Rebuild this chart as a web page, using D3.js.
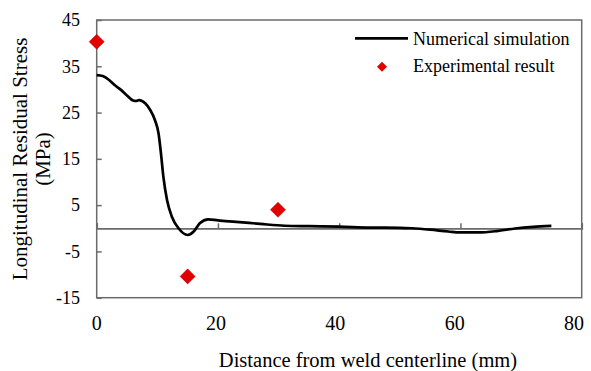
<!DOCTYPE html>
<html>
<head>
<meta charset="utf-8">
<script src="https://cdn.jsdelivr.net/npm/d3@7"></script>
<style>
  body { margin: 0; background: #fff; }
  text { font-family: "Liberation Serif", "Times New Roman", serif; fill: #000; }
</style>
</head>
<body>
<div id="chart"></div>
<script>
// numerical simulation curve
let simX = [0, 1, 2, 3, 4, 5, 6, 6.5, 7, 8, 8.8, 9.6, 10.2, 10.6, 11, 11.6, 12.4, 13.5, 15, 16, 17, 18.4, 20, 23, 27, 31, 35, 40, 45, 50, 52, 55, 58, 60, 63, 66, 69, 72, 75];
let simY = [33.1, 32.9, 32.1, 30.9, 29.9, 28.7, 27.6, 27.5, 27.7, 27.0, 25.6, 23.4, 20.5, 16.2, 11.1, 6.1, 2.5, 0, -1.45, -0.7, 1.1, 1.94, 1.7, 1.4, 0.95, 0.55, 0.45, 0.35, 0.15, 0.1, 0, -0.3, -0.7, -0.9, -0.9, -0.6, -0.05, 0.3, 0.5];
// experimental points
let expX = [0, 15, 29.9];
let expY = [40.3, -10.4, 4.0];
let xTicks = [0, 20, 40, 60, 80];
let yTicks = [-15, -5, 5, 15, 25, 35, 45];
let seriesNames = ["Numerical simulation", "Experimental result"];

let svg = d3.select("#chart").append("svg").attr("width", 591).attr("height", 371);
let x = d3.scaleLinear().domain([0, 80]).range([96.7, 581.7]);
let xLab = d3.scaleLinear().domain([0, 80]).range([96.7, 574]);
let y = d3.scaleLinear().domain([-15, 45]).range([297.7, 20]);
let axisCol = "#6b6b6b";

// plot box
svg.append("rect").attr("x", x(0)).attr("y", y(45))
  .attr("width", x(80) - x(0)).attr("height", y(-15) - y(45))
  .attr("fill", "none").attr("stroke", axisCol).attr("stroke-width", 1.5);

// y axis ticks (inside)
let yAx = svg.append("g").attr("transform", "translate(" + x(0) + ",0)")
  .call(d3.axisRight(y).tickValues(yTicks).tickSize(5).tickFormat(""));
yAx.select(".domain").remove();
yAx.selectAll("line").attr("stroke", axisCol).attr("stroke-width", 1.5);

yTicks.forEach(function (d) {
  svg.append("text").attr("x", 80).attr("y", y(d)).attr("dy", "0.35em")
    .attr("text-anchor", "end").attr("font-size", 18).text(d);
});

// x axis along zero
let xAx = svg.append("g").attr("transform", "translate(0," + y(0) + ")")
  .call(d3.axisTop(x).tickValues(xTicks).tickSize(5).tickFormat(""));
xAx.select(".domain").attr("stroke", axisCol).attr("stroke-width", 1.8);
xAx.selectAll("line").attr("stroke", axisCol).attr("stroke-width", 1.5);

xTicks.forEach(function (d) {
  svg.append("text").attr("x", xLab(d)).attr("y", 330)
    .attr("text-anchor", "middle").attr("font-size", 20).text(d);
});

// curve
let line = d3.line().x(d => x(d[0])).y(d => y(d[1])).curve(d3.curveMonotoneX);
svg.append("path").datum(d3.zip(simX, simY)).attr("d", line)
  .attr("fill", "none").attr("stroke", "#000").attr("stroke-width", 2.7);

// experimental diamonds
let diamond = d3.symbol().type(d3.symbolDiamond2).size(145);
d3.zip(expX, expY).forEach(function (p) {
  svg.append("path").attr("d", diamond)
    .attr("transform", "translate(" + x(p[0]) + "," + y(p[1]) + ")")
    .attr("fill", "#e00000").attr("stroke", "#c00000").attr("stroke-width", 0.5);
});

// legend
svg.append("line").attr("x1", 355).attr("x2", 408).attr("y1", 38.3).attr("y2", 38.3)
  .attr("stroke", "#000").attr("stroke-width", 2.7);
svg.append("text").attr("x", 413).attr("y", 45).attr("font-size", 18).text(seriesNames[0]);
svg.append("path").attr("d", d3.symbol().type(d3.symbolDiamond2).size(64))
  .attr("transform", "translate(382,66.7)").attr("fill", "#e00000");
svg.append("text").attr("x", 413).attr("y", 72).attr("font-size", 18).text(seriesNames[1]);

// axis titles
svg.append("text").attr("x", 368).attr("y", 367).attr("text-anchor", "middle")
  .attr("font-size", 20.5).text("Distance from weld centerline (mm)");
let yt = svg.append("text").attr("transform", "translate(0,159) rotate(-90)")
  .attr("text-anchor", "middle").attr("font-size", 21);
yt.append("tspan").attr("x", 0).attr("y", 26.5).text("Longitudinal Residual Stress");
yt.append("tspan").attr("x", 0).attr("y", 50).text("(MPa)");
</script>
</body>
</html>
